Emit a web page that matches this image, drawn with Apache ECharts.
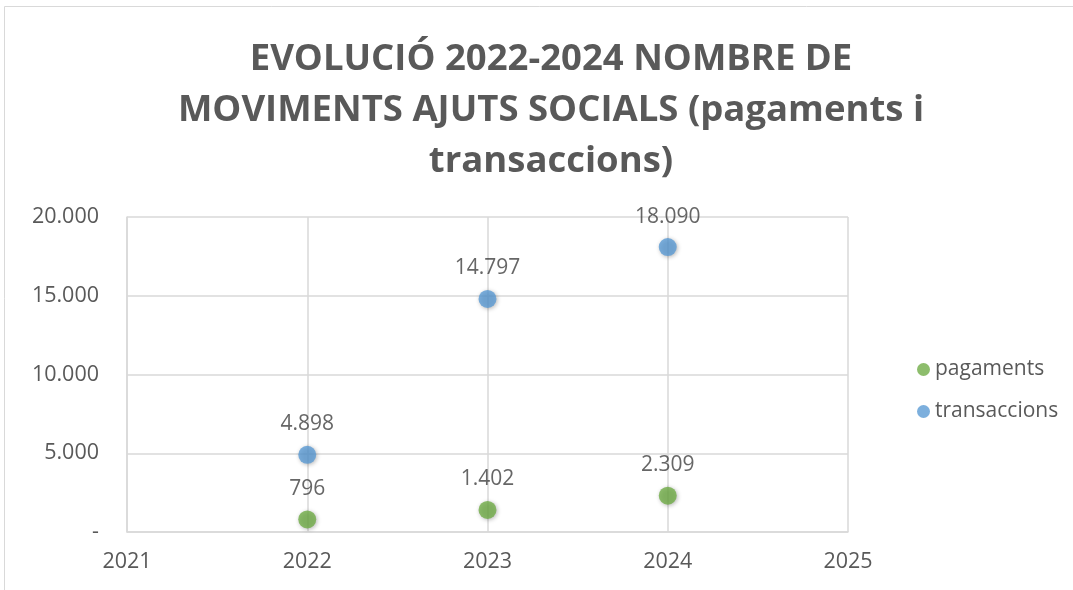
<!DOCTYPE html>
<html>
<head>
<meta charset="utf-8">
<script src="https://cdn.jsdelivr.net/npm/echarts@6/dist/echarts.min.js"></script>
<style>html,body{margin:0;padding:0;background:#fff}#c{width:1073px;height:590px}</style>
</head>
<body>
<div id="c"></div>
<script>
const titleLines = ["EVOLUCIÓ 2022-2024 NOMBRE DE", "MOVIMENTS AJUTS SOCIALS (pagaments i", "transaccions)"];
const years = [2022, 2023, 2024];
const pagaments = [796, 1402, 2309];
const transaccions = [4898, 14797, 18090];
const seriesNames = ["pagaments", "transaccions"];
const xRange = [2021, 2025];
const yRange = [0, 20000];

function fmt(v) {
  if (v === 0) return "-";
  return String(Math.round(v)).replace(/\B(?=(\d{3})+(?!\d))/g, ".");
}
const FONT = "'Open Sans', sans-serif";
const chart = echarts.init(document.getElementById('c'));
const mk = (name, xs, ys, color) => ({
  name, type: 'scatter',
  data: xs.map((x, i) => [x, ys[i]]),
  symbolSize: 18,
  itemStyle: { color, shadowBlur: 4, shadowColor: 'rgba(0,0,0,0.35)', shadowOffsetX: 1, shadowOffsetY: 1 },
  label: { show: true, position: 'top', distance: 11, color: '#404040', fontSize: 21, fontFamily: FONT,
    formatter: p => fmt(p.value[1]) },
  emphasis: { disabled: true }
});
chart.setOption({
  animation: false,
  title: {
    text: titleLines.join("\n"),
    left: 546, top: 29, textAlign: 'center',
    textStyle: { fontFamily: FONT, fontWeight: 'bold', fontSize: 36.5, color: '#595959', lineHeight: 51 }
  },
  graphic: [{ type: 'rect', shape: { x: 4.5, y: 6.5, width: 1100, height: 600 }, style: { fill: 'none', stroke: '#d9d9d9', lineWidth: 1 } }],
  legend: {
    orient: 'vertical', left: 912, top: 354, itemGap: 21,
    icon: 'circle', itemWidth: 13, itemHeight: 13,
    textStyle: { fontFamily: FONT, fontSize: 21, color: '#595959' },
    data: seriesNames
  },
  grid: { left: 127, right: 225, top: 217, bottom: 58 },
  xAxis: {
    type: 'value', min: xRange[0], max: xRange[1], interval: 1,
    axisLine: { show: true, lineStyle: { color: '#d9d9d9', width: 1.5 } },
    axisTick: { show: false },
    splitLine: { show: true, lineStyle: { color: '#d9d9d9', width: 1.5 } },
    axisLabel: { formatter: v => String(v), color: '#595959', fontSize: 21.5, fontFamily: FONT, margin: 19 }
  },
  yAxis: {
    type: 'value', min: yRange[0], max: yRange[1], interval: 5000,
    axisLine: { show: true, lineStyle: { color: '#d9d9d9', width: 1.5 } },
    axisTick: { show: false },
    splitLine: { show: true, lineStyle: { color: '#d9d9d9', width: 1.5 } },
    axisLabel: { formatter: fmt, color: '#595959', fontSize: 21.5, fontFamily: FONT, margin: 28 }
  },
  series: [
    mk(seriesNames[0], years, pagaments, '#70AD47'),
    mk(seriesNames[1], years, transaccions, '#5B9BD5')
  ]
});
</script>
</body>
</html>
